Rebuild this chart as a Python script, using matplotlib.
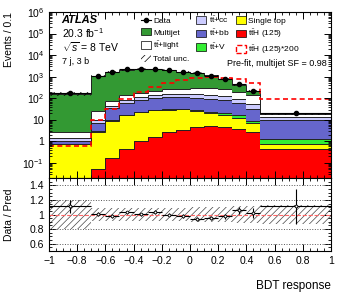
import numpy as np
import matplotlib
matplotlib.use("Agg")
import matplotlib.pyplot as plt
from matplotlib.ticker import FixedLocator, FixedFormatter, MultipleLocator, LogLocator, NullFormatter
from matplotlib.patches import Patch
from matplotlib.lines import Line2D

plt.rcParams['font.family'] = ['Liberation Sans', 'DejaVu Sans']
plt.rcParams['mathtext.fontset'] = 'custom'
plt.rcParams['mathtext.rm'] = 'Liberation Sans'
plt.rcParams['mathtext.it'] = 'Liberation Sans:italic'
plt.rcParams['mathtext.bf'] = 'Liberation Sans:bold'
plt.rcParams['hatch.linewidth'] = 0.5

# ---------------- data ----------------
bin_edges = [-1.0, -0.7, -0.6, -0.5, -0.4, -0.3, -0.2, -0.1, 0.0, 0.1, 0.2, 0.3, 0.4, 0.5, 1.0]
tth = [0.003, 0.051, 0.161, 0.44, 1.0, 1.66, 2.64, 3.52, 4.53, 5.04, 4.53, 3.78, 2.64, 0.44]
single_top = [0.747, 2.79, 9.1, 15.5, 21.7, 25.5, 26.6, 27.9, 19.9, 15.4, 12.6, 8.6, 4.3, 0.32]
ttv = [0.02, 0.1, 0.3, 0.5, 0.7, 0.9, 1.0, 1.1, 2.8, 3.2, 3.3, 3.5, 2.3, 0.53]
ttbb = [0.30, 4.03, 25.4, 43.5, 56.4, 74.4, 83.8, 81.5, 78.8, 71.9, 65.3, 44.0, 23.2, 8.1]
ttcc = [0.36, 3.0, 8.4, 19.9, 34.2, 34.0, 38.0, 50.0, 46.0, 46.1, 41.3, 29.0, 23.2, 3.8]
ttlight = [1.2, 15.3, 30.9, 56.7, 68.0, 81.5, 109.0, 116.0, 160.0, 170.0, 153.0, 107.0, 80.8, 4.5]
multijet = [155.0, 1055.0, 1636.0, 1970.0, 2047.0, 1946.0, 1749.0, 1429.0, 1188.0, 829.0, 503.0, 226.0, 76.0, 1.2]
data = [175, 1090, 1675, 2170, 2240, 2240, 2010, 1675, 1410, 1090, 765, 447, 217, 21]
rel_unc = [0.20, 0.09, 0.09, 0.09, 0.09, 0.09, 0.09, 0.09, 0.10, 0.10, 0.10, 0.11, 0.11, 0.13]
tth_scale = 200

stack_names = ["ttH", "single", "ttV", "ttbb", "ttcc", "ttlight", "multijet"]
stack_vals = [tth, single_top, ttv, ttbb, ttcc, ttlight, multijet]
stack_colors = ["#ff0000", "#ffff00", "#33ee33", "#6666cc", "#ccccff", "#ffffff", "#339933"]

edges = np.array(bin_edges)
centers = 0.5 * (edges[1:] + edges[:-1])
halfw = 0.5 * (edges[1:] - edges[:-1])

fig = plt.figure(figsize=(3.49, 2.95), dpi=100)
ax = fig.add_axes([0.1404, 0.3966, 0.808, 0.5627])
rax = fig.add_axes([0.1404, 0.149, 0.808, 0.2476])

ymin = 0.02
cum = np.zeros(len(centers))
for vals, col in zip(stack_vals, stack_colors):
    new = cum + np.array(vals)
    lo = np.maximum(cum, ymin * 0.5)
    ax.stairs(new, edges, baseline=lo, fill=True, color=col, lw=0)
    ax.stairs(new, edges, baseline=None, color="#222222", lw=0.7)
    cum = new
total = cum

# uncertainty hatch
unc = np.array(rel_unc)
ax.stairs(total * (1 + unc), edges, baseline=total * (1 - unc), fill=True,
          facecolor="none", edgecolor="black", hatch="/////", lw=0)

# ttH x200 dashed
ax.stairs(np.array(tth) * tth_scale, edges, baseline=None, color="red", lw=1.2, ls=(0, (3, 2)))

# data
d = np.array(data, dtype=float)
ax.errorbar(centers, d, xerr=halfw, yerr=np.sqrt(d), fmt="o", color="black",
            ms=3, lw=0.8, capsize=0)

ax.set_yscale("log")
ax.set_ylim(ymin, 1e6)
ax.set_xlim(-1, 1)
ytick_vals = [0.1, 1, 10, 100, 1e3, 1e4, 1e5, 1e6]
ytick_labs = ["$10^{-1}$", "1", "10", "$10^{2}$", "$10^{3}$", "$10^{4}$", "$10^{5}$", "$10^{6}$"]
ax.yaxis.set_major_locator(FixedLocator(ytick_vals))
ax.yaxis.set_major_formatter(FixedFormatter(ytick_labs))
ax.yaxis.set_minor_locator(LogLocator(base=10, subs=np.arange(2, 10), numticks=20))
ax.yaxis.set_minor_formatter(NullFormatter())
ax.set_ylabel("Events / 0.1", fontsize=7.5, loc="top")

for a in (ax, rax):
    a.xaxis.set_major_locator(MultipleLocator(0.2))
    a.xaxis.set_minor_locator(MultipleLocator(0.05))
    a.tick_params(which="both", direction="in", top=True, right=True, labelsize=7.5)
    a.tick_params(which="major", length=5, width=0.7)
    a.tick_params(which="minor", length=2.5, width=0.6)
    for s in a.spines.values():
        s.set_linewidth(0.8)
ax.tick_params(labelbottom=False)

# texts
ax.text(0.045, 0.952, "ATLAS", transform=ax.transAxes, fontsize=8, fontweight="bold",
        fontstyle="italic", va="center")
ax.text(0.045, 0.873, "20.3 fb$^{-1}$", transform=ax.transAxes, fontsize=7.5, va="center")
ax.text(0.045, 0.788, r"$\sqrt{s}$ = 8 TeV", transform=ax.transAxes, fontsize=7.5, va="center")
ax.text(0.045, 0.703, "7 j, 3 b", transform=ax.transAxes, fontsize=6.5, va="center")
ax.text(0.985, 0.69, "Pre-fit, multijet SF = 0.98", transform=ax.transAxes, fontsize=6.5,
        va="center", ha="right")

tt = r"$\mathrm{t\bar{t}}$"
handles = [
    Line2D([], [], color="black", marker="o", ms=3, lw=0.8),
    Patch(facecolor="#339933", edgecolor="black", lw=0.5),
    Patch(facecolor="white", edgecolor="black", lw=0.5),
    Patch(facecolor="none", edgecolor="black", hatch="/////", lw=0),
    Patch(facecolor="#ccccff", edgecolor="black", lw=0.5),
    Patch(facecolor="#6666cc", edgecolor="black", lw=0.5),
    Patch(facecolor="#33ee33", edgecolor="black", lw=0.5),
    Patch(facecolor="#ffff00", edgecolor="black", lw=0.5),
    Patch(facecolor="#ff0000", edgecolor="black", lw=0.5),
    Patch(facecolor="none", edgecolor="red", lw=1.0, ls="--"),
]
labels = ["Data", "Multijet", tt + "+light", "Total unc.", tt + "+cc", tt + "+bb", tt + "+V",
          "Single top", tt + "H (125)", tt + "H (125)*200"]
ax.legend(handles, labels, ncol=3, loc="upper left", bbox_to_anchor=(0.31, 1.01),
          frameon=False, fontsize=6, handlelength=1.2, handleheight=1.0,
          handletextpad=0.3, columnspacing=0.8, labelspacing=0.35, borderaxespad=0.1)

# ratio panel
ratio = d / total
rerr = np.sqrt(d) / total
rax.stairs(1 + unc, edges, baseline=1 - unc, fill=True, facecolor="none",
           edgecolor="#444444", hatch="/////", lw=0)
for yv in [0.6, 0.8, 1.2, 1.4]:
    rax.axhline(yv, color="#555555", ls=":", lw=0.7)
rax.axhline(1.0, color="#ff6666", ls="--", lw=0.8)
rax.errorbar(centers, ratio, xerr=halfw, yerr=rerr, fmt="o", color="black",
             ms=2, lw=0.8, capsize=0, mfc="white", mew=0.6)
rax.set_xlim(-1, 1)
rax.set_ylim(0.5, 1.5)
rax.yaxis.set_major_locator(FixedLocator([0.6, 0.8, 1.0, 1.2, 1.4]))
rax.yaxis.set_major_formatter(FixedFormatter(["0.6", "0.8", "1", "1.2", "1.4"]))
rax.yaxis.set_minor_locator(MultipleLocator(0.05))
xt = np.round(np.arange(-1, 1.01, 0.2), 1)
rax.set_xticks(xt)
rax.set_xticklabels(["\u22121", "\u22120.8", "\u22120.6", "\u22120.4", "\u22120.2", "0",
                     "0.2", "0.4", "0.6", "0.8", "1"])
rax.set_ylabel("Data / Pred", fontsize=7.5)
rax.set_xlabel("BDT response", fontsize=8.5, loc="right", labelpad=10)

ax.yaxis.set_label_coords(-0.125, 1.0)
rax.yaxis.set_label_coords(-0.125, 0.5)

fig.savefig("out.png", dpi=100)
